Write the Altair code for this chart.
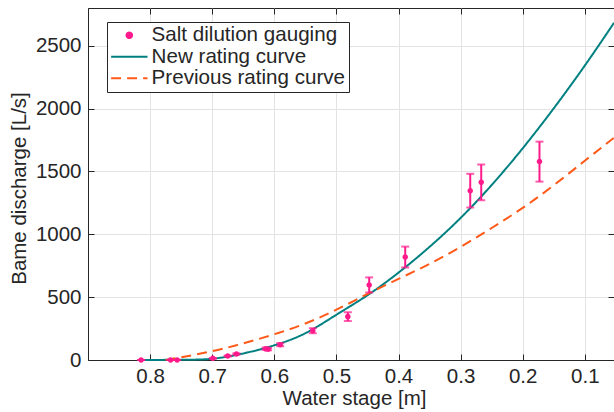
import altair as alt
import pandas as pd

# ---- data ----
series = ["Salt dilution gauging", "New rating curve", "Previous rating curve"]
colors = ["#ff1a8c", "#008080", "#ff5a1a"]

stage_pts = [0.8145, 0.767, 0.7565, 0.699, 0.675, 0.661, 0.614, 0.610, 0.5905,
             0.538, 0.4816, 0.4472, 0.3892, 0.2845, 0.2668, 0.173]
q_pts = [0, 0, 0, 13, 32, 48, 90, 86, 122, 233, 345, 597, 819, 1347, 1413, 1578]
q_err = [0, 0, 0, 2, 4, 5, 9, 9, 12, 20, 35, 60, 83, 134, 142, 159]

new_stage = [0.815, 0.8, 0.75, 0.7, 0.65, 0.6, 0.55, 0.5, 0.45, 0.4, 0.35, 0.3,
             0.25, 0.2, 0.15, 0.1, 0.053]
new_q = [0, 0, 2, 10, 52, 117, 213, 360, 515, 695, 900, 1130, 1392, 1684, 2002,
         2342, 2682]

old_stage = [0.775, 0.75, 0.7, 0.65, 0.6, 0.55, 0.5, 0.45, 0.4, 0.35, 0.3, 0.25,
             0.2, 0.15, 0.1, 0.053]
old_q = [0, 22, 70, 132, 205, 290, 400, 525, 645, 765, 900, 1050, 1210, 1390,
         1585, 1768]

x_ticks = [0.8, 0.7, 0.6, 0.5, 0.4, 0.3, 0.2, 0.1]
y_ticks = [0, 500, 1000, 1500, 2000, 2500]

# ---- tables ----
pts = pd.DataFrame({
    "stage": stage_pts,
    "q": q_pts,
    "lo": [q - e for q, e in zip(q_pts, q_err)],
    "hi": [q + e for q, e in zip(q_pts, q_err)],
    "series": series[0],
})
curves = pd.concat([
    pd.DataFrame({"stage": new_stage, "q": new_q, "series": series[1], "k": range(len(new_q))}),
    pd.DataFrame({"stage": old_stage, "q": old_q, "series": series[2], "k": range(len(old_q))}),
], ignore_index=True)

FONT = "Liberation Sans"
TXT = "#262626"
DOT = "M-0.32,0A0.32,0.32 0 1,0 0.32,0A0.32,0.32 0 1,0 -0.32,0Z"
LINE = "M-2.1,0H2.1"
SYM = 300

xs = alt.Scale(domain=[0.053, 0.9], reverse=True, nice=False, zero=False)
ys = alt.Scale(domain=[0, 2800], nice=False, zero=False)
color_scale = alt.Scale(domain=series, range=colors)
dash_scale = alt.Scale(domain=series, range=[[1, 0], [1, 0], [10, 6]])
shape_scale = alt.Scale(domain=series, range=[DOT, LINE, LINE])

leg = alt.Legend(title=None, orient="none", legendX=19, legendY=14)

main_x_axis = alt.Axis(values=x_ticks, format=".1f", title="Water stage [m]",
                       grid=True, tickSize={"expr": "-6"}, labelPadding=12,
                       titleX=266, titleY=44, titleBaseline="alphabetic")
main_y_axis = alt.Axis(values=y_ticks, format="d", title="Bame discharge [L/s]",
                       grid=True, tickSize={"expr": "-6"}, labelPadding=13,
                       titleX=-63, titleY=180, titleAngle=-90,
                       titleBaseline="alphabetic", titleAlign="center")
top_axis = alt.Axis(values=x_ticks, orient="top", labels=False, title=None,
                    grid=False, domain=False, tickSize={"expr": "-6"})
right_axis = alt.Axis(values=y_ticks, orient="right", labels=False, title=None,
                      grid=False, domain=False, tickSize={"expr": "-6"})

lines = alt.Chart(curves).mark_line(strokeWidth=2, interpolate="natural").encode(
    x=alt.X("stage:Q", scale=xs, axis=main_x_axis),
    y=alt.Y("q:Q", scale=ys, axis=main_y_axis),
    color=alt.Color("series:N", scale=color_scale, legend=leg),
    strokeDash=alt.StrokeDash("series:N", scale=dash_scale, legend=leg),
    order="k:Q",
)

bars = alt.Chart(pts).mark_rule(strokeWidth=2, color=colors[0]).encode(
    x=alt.X("stage:Q", scale=xs, axis=top_axis),
    y=alt.Y("lo:Q", scale=ys, axis=right_axis),
    y2="hi:Q",
)
cap_lo = alt.Chart(pts).mark_tick(orient="horizontal", size=8, thickness=2,
                                  color=colors[0]).encode(
    x=alt.X("stage:Q", scale=xs, axis=None),
    y=alt.Y("lo:Q", scale=ys, axis=None),
)
cap_hi = alt.Chart(pts).mark_tick(orient="horizontal", size=8, thickness=2,
                                  color=colors[0]).encode(
    x=alt.X("stage:Q", scale=xs, axis=None),
    y=alt.Y("hi:Q", scale=ys, axis=None),
)
points = alt.Chart(pts).mark_point(filled=True, size=SYM, opacity=1).encode(
    x=alt.X("stage:Q", scale=xs, axis=None),
    y=alt.Y("q:Q", scale=ys, axis=None),
    color=alt.Color("series:N", scale=color_scale, legend=leg),
    shape=alt.Shape("series:N", scale=shape_scale, legend=leg),
)

chart = alt.layer(lines, bars, cap_lo, cap_hi, points).resolve_axis(
    x="independent", y="independent"
).properties(
    width=526, height=352,
    autosize=alt.AutoSizeParams(type="none"),
    padding={"left": 88, "top": 8, "right": 0, "bottom": 52},
    background="white",
).configure_view(
    stroke=TXT, strokeWidth=1
).configure_axis(
    labelFont=FONT, labelFontSize=20.5, labelColor=TXT,
    titleFont=FONT, titleFontSize=20.5, titleColor=TXT, titleFontWeight="normal",
    domainColor=TXT, tickColor=TXT, tickWidth=1,
    gridColor="#e3e3e3", gridWidth=1,
).configure_legend(
    labelFont=FONT, labelFontSize=20.6, labelColor=TXT, labelLimit=400,
    strokeColor=TXT, fillColor="white", padding=3, rowPadding=0.5,
    symbolSize=SYM, symbolStrokeWidth=2, symbolOffset=9, labelOffset=12,
    cornerRadius=0,
)

chart.save("out.html", embed_options={"renderer": "svg", "actions": False})
